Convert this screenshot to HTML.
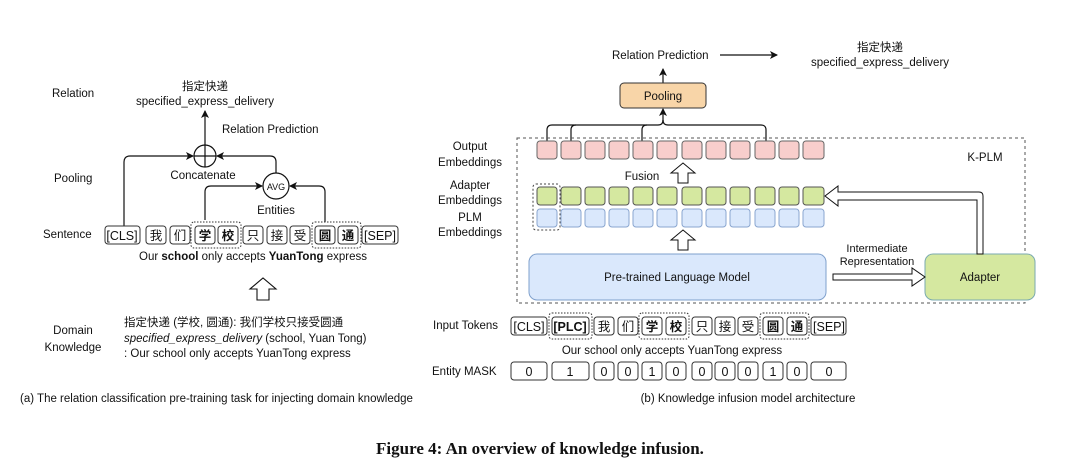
<!DOCTYPE html>
<html><head><meta charset="utf-8"><style>
html,body{margin:0;padding:0;background:#fff;width:1080px;height:469px;overflow:hidden}
text{font-family:"Liberation Sans","Noto Sans CJK SC",sans-serif;fill:#111}
</style></head><body>
<svg width="1080" height="469" viewBox="0 0 1080 469" xmlns="http://www.w3.org/2000/svg">
<defs>
<marker id="ah" markerWidth="8" markerHeight="8" refX="7" refY="4" orient="auto" markerUnits="userSpaceOnUse"><path d="M0,0 L8,4 L0,8 L2,4 Z" fill="#111"/></marker>
</defs>
<g font-size="11.5">
<text x="52" y="97">Relation</text>
<text x="54" y="182">Pooling</text>
<text x="43" y="238">Sentence</text>
<text x="73" y="334" text-anchor="middle">Domain</text>
<text x="73" y="351" text-anchor="middle">Knowledge</text>
<text x="205" y="90" text-anchor="middle">指定快递</text>
<text x="205" y="105" text-anchor="middle">specified_express_delivery</text>
<text x="222" y="133">Relation Prediction</text>
<text x="203" y="179" text-anchor="middle">Concatenate</text>
<text x="276" y="214" text-anchor="middle">Entities</text>
<g fill="none" stroke="#111" stroke-width="1.2">
<line x1="205" y1="145" x2="205" y2="111" marker-end="url(#ah)"/>
<circle cx="205" cy="156" r="11"/>
<line x1="194" y1="156" x2="216" y2="156"/><line x1="205" y1="145" x2="205" y2="167"/>
<path d="M124,226 V162 Q124,156 130,156 H193" marker-end="url(#ah)"/>
<path d="M276,173 V162 Q276,156 270,156 H217" marker-end="url(#ah)"/>
<circle cx="276" cy="186" r="13"/>
<path d="M205,220 V192 Q205,186 211,186 H262" marker-end="url(#ah)"/>
<path d="M325,222 V192 Q325,186 319,186 H290" marker-end="url(#ah)"/>
</g>
<text x="276" y="190" text-anchor="middle" font-size="9">AVG</text>
<g fill="none" stroke="#333" stroke-width="1">
<rect x="105" y="226" width="35" height="18" rx="3"/>
<rect x="146" y="226" width="20" height="18" rx="3"/>
<rect x="170" y="226" width="20" height="18" rx="3"/>
<rect x="195" y="226" width="20" height="18" rx="3"/>
<rect x="218" y="226" width="20" height="18" rx="3"/>
<rect x="243" y="226" width="20" height="18" rx="3"/>
<rect x="267" y="226" width="20" height="18" rx="3"/>
<rect x="290" y="226" width="20" height="18" rx="3"/>
<rect x="315" y="226" width="20" height="18" rx="3"/>
<rect x="338" y="226" width="20" height="18" rx="3"/>
<rect x="362" y="226" width="36" height="18" rx="3"/>
<rect x="191" y="222" width="50" height="26" rx="3" stroke-dasharray="1.5,1.5"/>
<rect x="312" y="222" width="49" height="26" rx="3" stroke-dasharray="1.5,1.5"/>
</g>
<g font-size="12.5" text-anchor="middle">
<text x="122" y="240">[CLS]</text><text x="156" y="240">我</text><text x="180" y="240">们</text>
<text x="205" y="240" font-weight="bold">学</text><text x="228" y="240" font-weight="bold">校</text>
<text x="253" y="240">只</text><text x="277" y="240">接</text><text x="300" y="240">受</text>
<text x="325" y="240" font-weight="bold">圆</text><text x="348" y="240" font-weight="bold">通</text><text x="380" y="240">[SEP]</text>
</g>
<text x="253" y="260" text-anchor="middle">Our <tspan font-weight="bold">school</tspan> only accepts <tspan font-weight="bold">YuanTong</tspan> express</text>
<path d="M257,300 V289 H250 L263,278 L276,289 H269 V300 Z" fill="#fff" stroke="#111" stroke-width="1.1"/>
<text x="124" y="326">指定快递 (学校, 圆通): 我们学校只接受圆通</text>
<text x="124" y="342"><tspan font-style="italic">specified_express_delivery</tspan> (school, Yuan Tong)</text>
<text x="124" y="357">: Our school only accepts YuanTong express</text>
<text x="20" y="402" font-size="11.5">(a) The relation classification pre-training task for injecting domain knowledge</text>

<text x="612" y="59">Relation Prediction</text>
<line x1="720" y1="55" x2="777" y2="55" stroke="#111" stroke-width="1.2" marker-end="url(#ah)"/>
<text x="880" y="51" text-anchor="middle">指定快递</text>
<text x="880" y="66" text-anchor="middle">specified_express_delivery</text>
<line x1="663" y1="83" x2="663" y2="69" stroke="#111" stroke-width="1.2" marker-end="url(#ah)"/>
<rect x="620" y="83" width="86" height="25" rx="4" fill="#f8d5a8" stroke="#333"/>
<text x="663" y="100" text-anchor="middle">Pooling</text>
<g fill="none" stroke="#111" stroke-width="1.2">
<path d="M547,141 V130 Q547,125 552,125 H658 Q663,125 663,120"/>
<path d="M571,141 V130 Q571,125 576,125"/>
<path d="M642,141 V130 Q642,125 647,125"/>
<path d="M766,141 V130 Q766,125 761,125 H668 Q663,125 663,120"/>
<line x1="663" y1="122" x2="663" y2="109" marker-end="url(#ah)"/>
</g>
<rect x="517" y="138" width="508" height="165" fill="none" stroke="#555" stroke-dasharray="3,3"/>
<text x="985" y="161" text-anchor="middle">K-PLM</text>
<g text-anchor="middle">
<text x="470" y="150">Output</text><text x="470" y="166">Embeddings</text>
<text x="470" y="189">Adapter</text><text x="470" y="204">Embeddings</text>
<text x="470" y="221">PLM</text><text x="470" y="236">Embeddings</text>
</g>
<g stroke-width="1">
<g fill="#f8cecc" stroke="#666">
<rect x="537" y="141" width="20" height="18" rx="3"/><rect x="561" y="141" width="20" height="18" rx="3"/><rect x="585" y="141" width="20" height="18" rx="3"/><rect x="609" y="141" width="20" height="18" rx="3"/><rect x="633" y="141" width="20" height="18" rx="3"/><rect x="657" y="141" width="20" height="18" rx="3"/><rect x="682" y="141" width="20" height="18" rx="3"/><rect x="706" y="141" width="20" height="18" rx="3"/><rect x="730" y="141" width="20" height="18" rx="3"/><rect x="755" y="141" width="20" height="18" rx="3"/><rect x="779" y="141" width="20" height="18" rx="3"/><rect x="803" y="141" width="21" height="18" rx="3"/>
</g>
<g fill="#d5e8a0" stroke="#555">
<rect x="537" y="187" width="20" height="18" rx="3"/><rect x="561" y="187" width="20" height="18" rx="3"/><rect x="585" y="187" width="20" height="18" rx="3"/><rect x="609" y="187" width="20" height="18" rx="3"/><rect x="633" y="187" width="20" height="18" rx="3"/><rect x="657" y="187" width="20" height="18" rx="3"/><rect x="682" y="187" width="20" height="18" rx="3"/><rect x="706" y="187" width="20" height="18" rx="3"/><rect x="730" y="187" width="20" height="18" rx="3"/><rect x="755" y="187" width="20" height="18" rx="3"/><rect x="779" y="187" width="20" height="18" rx="3"/><rect x="803" y="187" width="21" height="18" rx="3"/>
</g>
<g fill="#dae8fc" stroke="#8aa6cf">
<rect x="537" y="209" width="20" height="18" rx="3"/><rect x="561" y="209" width="20" height="18" rx="3"/><rect x="585" y="209" width="20" height="18" rx="3"/><rect x="609" y="209" width="20" height="18" rx="3"/><rect x="633" y="209" width="20" height="18" rx="3"/><rect x="657" y="209" width="20" height="18" rx="3"/><rect x="682" y="209" width="20" height="18" rx="3"/><rect x="706" y="209" width="20" height="18" rx="3"/><rect x="730" y="209" width="20" height="18" rx="3"/><rect x="755" y="209" width="20" height="18" rx="3"/><rect x="779" y="209" width="20" height="18" rx="3"/><rect x="803" y="209" width="21" height="18" rx="3"/>
</g>
</g>
<rect x="533" y="184" width="27" height="46" rx="3" fill="none" stroke="#444" stroke-dasharray="2,2"/>
<text x="642" y="180" text-anchor="middle">Fusion</text>
<path d="M678,183 V173 H671 L683,163 L695,173 H688 V183 Z" fill="#fff" stroke="#111"/>
<path d="M678,250 V240 H671 L683,230 L695,240 H688 V250 Z" fill="#fff" stroke="#111"/>
<rect x="529" y="254" width="297" height="46" rx="8" fill="#dae8fc" stroke="#7fa0cc"/>
<text x="677" y="281" text-anchor="middle">Pre-trained Language Model</text>
<rect x="925" y="254" width="110" height="46" rx="8" fill="#d5e8a0" stroke="#7aaab0"/>
<text x="980" y="281" text-anchor="middle">Adapter</text>
<text x="877" y="252" text-anchor="middle" font-size="11">Intermediate</text>
<text x="877" y="265" text-anchor="middle" font-size="11">Representation</text>
<path d="M833,274 H912 V268 L925,277 L912,286 V280 H833 Z" fill="#fff" stroke="#111"/>
<path d="M983,254 V196 Q983,192 979,192 H838 V186 L825,196 L838,206 V200 H977 V254 Z" fill="#fff" stroke="#111"/>
<text x="433" y="329">Input Tokens</text>
<g fill="none" stroke="#333">
<rect x="511" y="317" width="36" height="18" rx="3"/><rect x="552" y="317" width="37" height="18" rx="3"/>
<rect x="594" y="317" width="20" height="18" rx="3"/><rect x="618" y="317" width="20" height="18" rx="3"/>
<rect x="642" y="317" width="20" height="18" rx="3"/><rect x="666" y="317" width="20" height="18" rx="3"/>
<rect x="692" y="317" width="20" height="18" rx="3"/><rect x="715" y="317" width="20" height="18" rx="3"/>
<rect x="738" y="317" width="20" height="18" rx="3"/><rect x="763" y="317" width="20" height="18" rx="3"/>
<rect x="787" y="317" width="20" height="18" rx="3"/><rect x="811" y="317" width="35" height="18" rx="3"/>
<rect x="549" y="313" width="43" height="26" rx="3" stroke-dasharray="1.5,1.5"/>
<rect x="639" y="313" width="50" height="26" rx="3" stroke-dasharray="1.5,1.5"/>
<rect x="760" y="313" width="49" height="26" rx="3" stroke-dasharray="1.5,1.5"/>
</g>
<g font-size="12.5" text-anchor="middle">
<text x="529" y="331">[CLS]</text><text x="570" y="331" font-weight="bold">[PLC]</text>
<text x="604" y="331">我</text><text x="628" y="331">们</text>
<text x="652" y="331" font-weight="bold">学</text><text x="676" y="331" font-weight="bold">校</text>
<text x="702" y="331">只</text><text x="725" y="331">接</text><text x="748" y="331">受</text>
<text x="773" y="331" font-weight="bold">圆</text><text x="797" y="331" font-weight="bold">通</text><text x="829" y="331">[SEP]</text>
</g>
<text x="672" y="354" text-anchor="middle">Our school only accepts YuanTong express</text>
<text x="432" y="375">Entity MASK</text>
<g fill="none" stroke="#333">
<rect x="511" y="362" width="36" height="18" rx="3"/><rect x="552" y="362" width="37" height="18" rx="3"/>
<rect x="594" y="362" width="20" height="18" rx="3"/><rect x="618" y="362" width="20" height="18" rx="3"/>
<rect x="642" y="362" width="20" height="18" rx="3"/><rect x="666" y="362" width="20" height="18" rx="3"/>
<rect x="692" y="362" width="20" height="18" rx="3"/><rect x="715" y="362" width="20" height="18" rx="3"/>
<rect x="738" y="362" width="20" height="18" rx="3"/><rect x="763" y="362" width="20" height="18" rx="3"/>
<rect x="787" y="362" width="20" height="18" rx="3"/><rect x="811" y="362" width="35" height="18" rx="3"/>
</g>
<g text-anchor="middle" font-size="12.5">
<text x="529" y="376">0</text><text x="570" y="376">1</text><text x="604" y="376">0</text><text x="628" y="376">0</text><text x="652" y="376">1</text><text x="676" y="376">0</text><text x="702" y="376">0</text><text x="725" y="376">0</text><text x="748" y="376">0</text><text x="773" y="376">1</text><text x="797" y="376">0</text><text x="829" y="376">0</text>
</g>
<text x="748" y="402" text-anchor="middle">(b) Knowledge infusion model architecture</text>
</g>
<text x="540" y="454" text-anchor="middle" style="font-family:'Liberation Serif','Noto Serif CJK SC',serif;font-weight:bold;font-size:17px">Figure 4: An overview of knowledge infusion.</text>
</svg>
</body></html>
